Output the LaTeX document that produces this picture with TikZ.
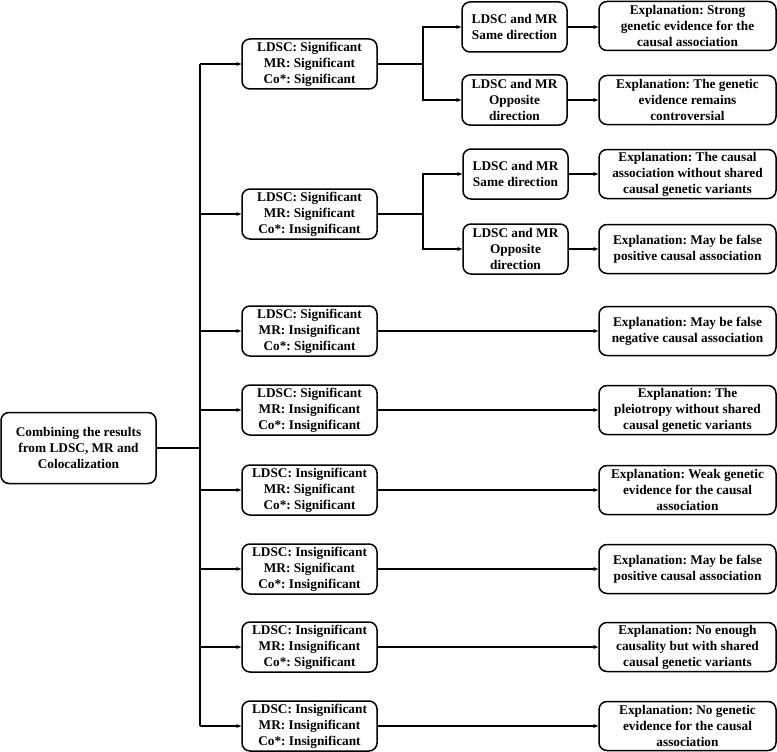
\documentclass[tikz,border=0pt]{standalone}
\usepackage{fontspec}
\setmainfont{Liberation Serif}
\usetikzlibrary{arrows.meta, positioning, calc}
\frenchspacing

\begin{document}
\begin{tikzpicture}[
    x=1pt, y=-1pt,
    box/.style={draw, line width=1.5pt, rounded corners=8pt, align=center,
                font=\fontsize{13.3}{16}\selectfont\bfseries, inner sep=1pt},
    midbox/.style={box, minimum width=135pt, minimum height=50pt},
    dirbox/.style={box, minimum width=105pt, minimum height=50pt},
    expbox/.style={box, minimum width=177pt, minimum height=49pt},
    link/.style={line width=1.5pt},
    >={Stealth[length=5pt, width=4pt]}
  ]
  \useasboundingbox (0,0) rectangle (777,752);

  \node[box, minimum width=155pt, minimum height=71pt] (root) at (78.5,448)
    {Combining the results\\from LDSC, MR and\\Colocalization};
  \coordinate (trunk) at (200,448);

  % rows with a direction check
  \node[midbox] (m1) at (309.5,64)
    {LDSC: Significant\\MR: Significant\\Co*: Significant};
  \node[midbox] (m2) at (309.5,214)
    {LDSC: Significant\\MR: Significant\\Co*: Insignificant};

  \node[dirbox] (d1) at (514.5,27) {LDSC and MR\\Same direction};
  \node[dirbox] (d2) at (514.5,100) {LDSC and MR\\Opposite\\direction};
  \node[dirbox] (d3) at (515.5,174) {LDSC and MR\\Same direction};
  \node[dirbox] (d4) at (515.5,249) {LDSC and MR\\Opposite\\direction};

  \node[expbox] (e1) at (687.5,26)
    {Explanation: Strong\\genetic evidence for the\\causal association};
  \node[expbox] (e2) at (687.5,100)
    {Explanation: The genetic\\evidence remains\\controversial};
  \node[expbox] (e3) at (687.5,174)
    {Explanation: The causal\\association without shared\\causal genetic variants};
  \node[expbox] (e4) at (687.5,249)
    {Explanation: May be false\\positive causal association};

  \coordinate (split1) at (423,64);
  \coordinate (split2) at (423,214);

  % rows going straight to an explanation
  \foreach \yy/\ldsc/\mr/\co/\expl [count=\i from 3] in {
      331/Significant/Insignificant/Significant/{Explanation: May be false\\negative causal association},
      410/Significant/Insignificant/Insignificant/{Explanation: The\\pleiotropy without shared\\causal genetic variants},
      490/Insignificant/Significant/Significant/{Explanation: Weak genetic\\evidence for the causal\\association},
      569/Insignificant/Significant/Insignificant/{Explanation: May be false\\positive causal association},
      647/Insignificant/Insignificant/Significant/{Explanation: No enough\\causality but with shared\\causal genetic variants},
      726/Insignificant/Insignificant/Insignificant/{Explanation: No genetic\\evidence for the causal\\association}} {
    \node[midbox] (m\i) at (309.5,\yy)
      {LDSC: \ldsc\\MR: \mr\\Co*: \co};
    \node[expbox] (x\i) at (687.5,\yy) {\expl};
    \draw[link, ->] (m\i.east) -- (x\i.west);
  }

  % tree lines
  \draw[link] (root.east) -- (trunk);
  \draw[link] (trunk |- m1.west) -- (trunk |- m8.west);
  \foreach \i in {1,...,8} {
    \draw[link, ->] (trunk |- m\i.west) -- (m\i.west);
  }

  \draw[link] (m1.east) -- (split1);
  \draw[link, ->] (split1) |- (d1.west);
  \draw[link, ->] (split1) |- (d2.west);
  \draw[link] (m2.east) -- (split2);
  \draw[link, ->] (split2) |- (d3.west);
  \draw[link, ->] (split2) |- (d4.west);

  \draw[link, ->] (d1.east) -- (d1.east -| e1.west);
  \draw[link, ->] (d2.east) -- (d2.east -| e2.west);
  \draw[link, ->] (d3.east) -- (d3.east -| e3.west);
  \draw[link, ->] (d4.east) -- (d4.east -| e4.west);
\end{tikzpicture}
\end{document}
